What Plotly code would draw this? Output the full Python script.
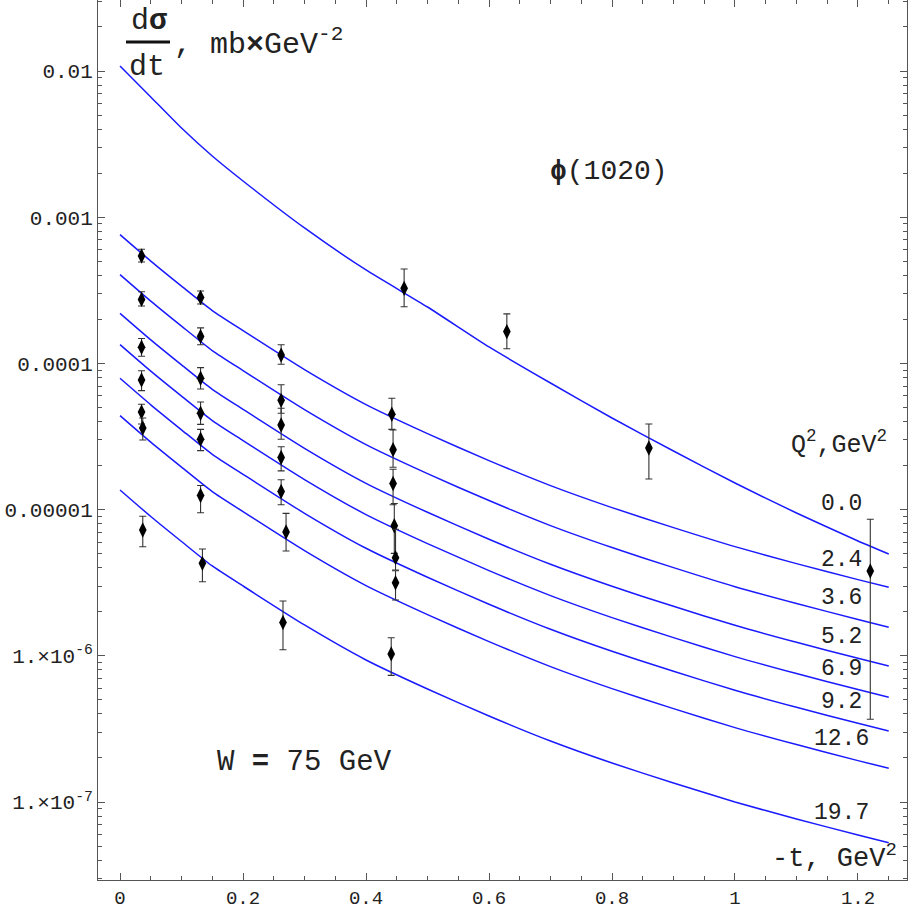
import plotly.graph_objects as go

# ---------------- data ----------------
t_grid = [0, 0.05, 0.1, 0.15, 0.2, 0.3, 0.4, 0.5, 0.6, 0.7, 0.8, 0.9, 1.0, 1.1, 1.2, 1.25]

curve_q0 = [1.082e-2, 6.643e-3, 4.074e-3, 2.622e-3, 1.769e-3, 8.44e-4, 4.354e-4, 2.431e-4,
            1.295e-4, 7.342e-5, 4.231e-5, 2.517e-5, 1.520e-5, 9.48e-6, 6.10e-6, 4.97e-6]
curve_q2_4 = [7.60e-4, 5.009e-4, 3.378e-4, 2.297e-4, 1.676e-4, 9.07e-5, 5.227e-5, 3.310e-5,
              2.164e-5, 1.459e-5, 1.032e-5, 7.53e-6, 5.58e-6, 4.27e-6, 3.32e-6, 2.94e-6]
curve_q3_6 = [4.05e-4, 2.668e-4, 1.799e-4, 1.224e-4, 8.93e-5, 4.83e-5, 2.784e-5, 1.763e-5,
              1.153e-5, 7.77e-6, 5.50e-6, 4.01e-6, 2.97e-6, 2.28e-6, 1.77e-6, 1.57e-6]
curve_q5_2 = [2.201e-4, 1.450e-4, 9.779e-5, 6.649e-5, 4.853e-5, 2.626e-5, 1.513e-5, 9.583e-6,
              6.264e-6, 4.224e-6, 2.987e-6, 2.180e-6, 1.616e-6, 1.237e-6, 9.612e-7, 8.516e-7]
curve_q6_9 = [1.345e-4, 8.861e-5, 5.976e-5, 4.063e-5, 2.966e-5, 1.605e-5, 9.247e-6, 5.856e-6,
              3.828e-6, 2.581e-6, 1.825e-6, 1.332e-6, 9.875e-7, 7.558e-7, 5.874e-7, 5.204e-7]
curve_q9_2 = [7.908e-5, 5.210e-5, 3.514e-5, 2.389e-5, 1.744e-5, 9.434e-6, 5.437e-6, 3.443e-6,
              2.251e-6, 1.518e-6, 1.073e-6, 7.834e-7, 5.806e-7, 4.444e-7, 3.453e-7, 3.060e-7]
curve_q12_6 = [4.395e-5, 2.895e-5, 1.953e-5, 1.328e-5, 9.691e-6, 5.243e-6, 3.022e-6, 1.914e-6,
               1.251e-6, 8.434e-7, 5.964e-7, 4.354e-7, 3.227e-7, 2.470e-7, 1.919e-7, 1.700e-7]
curve_q19_7 = [1.362e-5, 8.973e-6, 6.051e-6, 4.115e-6, 3.003e-6, 1.625e-6, 9.364e-7, 5.930e-7,
               3.876e-7, 2.614e-7, 1.848e-7, 1.349e-7, 1.000e-7, 7.653e-8, 5.948e-8, 5.270e-8]

curves = [curve_q0, curve_q2_4, curve_q3_6, curve_q5_2, curve_q6_9, curve_q9_2, curve_q12_6, curve_q19_7]
q2_labels = ["0.0", "2.4", "3.6", "5.2", "6.9", "9.2", "12.6", "19.7"]

# measured points: (t, value, upper, lower)
pts_q0_t = [0.462, 0.629, 0.860, 1.220]
pts_q0_v = [3.26e-4, 1.65e-4, 2.64e-5, 3.80e-6]
pts_q0_hi = [4.42e-4, 2.18e-4, 3.85e-5, 8.58e-6]
pts_q0_lo = [2.44e-4, 1.26e-4, 1.62e-5, 3.68e-7]

pts_q2_4_t = [0.035, 0.131, 0.262, 0.442]
pts_q2_4_v = [5.43e-4, 2.82e-4, 1.14e-4, 4.49e-5]
pts_q2_4_hi = [6.03e-4, 3.13e-4, 1.34e-4, 5.77e-5]
pts_q2_4_lo = [4.94e-4, 2.55e-4, 9.86e-5, 3.54e-5]

pts_q3_6_t = [0.035, 0.131, 0.262, 0.444]
pts_q3_6_v = [2.74e-4, 1.53e-4, 5.59e-5, 2.57e-5]
pts_q3_6_hi = [3.09e-4, 1.75e-4, 7.15e-5, 3.50e-5]
pts_q3_6_lo = [2.47e-4, 1.34e-4, 4.56e-5, 1.95e-5]

pts_q5_2_t = [0.035, 0.131, 0.262, 0.444]
pts_q5_2_v = [1.29e-4, 7.91e-5, 3.79e-5, 1.51e-5]
pts_q5_2_hi = [1.48e-4, 9.35e-5, 4.93e-5, 1.89e-5]
pts_q5_2_lo = [1.12e-4, 6.68e-5, 3.03e-5, 1.08e-5]

pts_q6_9_t = [0.035, 0.131, 0.262, 0.446]
pts_q6_9_v = [7.70e-5, 4.56e-5, 2.27e-5, 7.76e-6]
pts_q6_9_hi = [8.91e-5, 5.44e-5, 2.69e-5, 1.10e-5]
pts_q6_9_lo = [6.51e-5, 3.83e-5, 1.84e-5, 5.02e-6]

pts_q9_2_t = [0.035, 0.131, 0.262, 0.448]
pts_q9_2_v = [4.65e-5, 3.03e-5, 1.33e-5, 4.69e-6]
pts_q9_2_hi = [5.25e-5, 3.54e-5, 1.60e-5, 7.33e-6]
pts_q9_2_lo = [3.85e-5, 2.53e-5, 1.08e-5, 3.86e-6]

pts_q12_6_t = [0.037, 0.131, 0.270, 0.448]
pts_q12_6_v = [3.61e-5, 1.25e-5, 7.03e-6, 3.16e-6]
pts_q12_6_hi = [4.23e-5, 1.46e-5, 9.43e-6, 3.82e-6]
pts_q12_6_lo = [2.99e-5, 9.52e-6, 5.21e-6, 2.41e-6]

pts_q19_7_t = [0.037, 0.134, 0.265, 0.441]
pts_q19_7_v = [7.25e-6, 4.29e-6, 1.69e-6, 1.03e-6]
pts_q19_7_hi = [9.00e-6, 5.38e-6, 2.37e-6, 1.33e-6]
pts_q19_7_lo = [5.57e-6, 3.21e-6, 1.10e-6, 7.35e-7]

point_sets = [
    (pts_q0_t, pts_q0_v, pts_q0_hi, pts_q0_lo),
    (pts_q2_4_t, pts_q2_4_v, pts_q2_4_hi, pts_q2_4_lo),
    (pts_q3_6_t, pts_q3_6_v, pts_q3_6_hi, pts_q3_6_lo),
    (pts_q5_2_t, pts_q5_2_v, pts_q5_2_hi, pts_q5_2_lo),
    (pts_q6_9_t, pts_q6_9_v, pts_q6_9_hi, pts_q6_9_lo),
    (pts_q9_2_t, pts_q9_2_v, pts_q9_2_hi, pts_q9_2_lo),
    (pts_q12_6_t, pts_q12_6_v, pts_q12_6_hi, pts_q12_6_lo),
    (pts_q19_7_t, pts_q19_7_v, pts_q19_7_hi, pts_q19_7_lo),
]

x_tickvals = [0, 0.2, 0.4, 0.6, 0.8, 1.0, 1.2]
x_ticktext = ["0", "0.2", "0.4", "0.6", "0.8", "1", "1.2"]
y_tickvals = [1e-2, 1e-3, 1e-4, 1e-5, 1e-6, 1e-7]
y_ticktext = ["0.01", "0.001", "0.0001", "0.00001", "1.×10<sup>-6</sup>", "1.×10<sup>-7</sup>"]

# ---------------- figure ----------------
W, H = 910, 910
ML, MR, MT, MB = 98, 3, 0, 30
PW, PH = W - ML - MR, H - MT - MB
FONT = "Liberation Mono, Courier New, monospace"
TXT = "#222222"


def px(xp):
    return (xp - ML) / PW


def py(yp):
    return 1 - (yp - MT) / PH


fig = go.Figure()

for c in curves:
    fig.add_trace(go.Scatter(x=t_grid, y=c, mode="lines",
                             line=dict(color="#1a1aff", width=1.5, shape="spline", smoothing=0.6),
                             hoverinfo="skip", showlegend=False))

for (t, v, hi, lo) in point_sets:
    fig.add_trace(go.Scatter(
        x=t, y=v, mode="markers",
        marker=dict(symbol="diamond-tall", size=11, color="black"),
        error_y=dict(type="data", symmetric=False,
                     array=[h - a for h, a in zip(hi, v)],
                     arrayminus=[a - l for a, l in zip(v, lo)],
                     color="#333333", thickness=1.1, width=3.5),
        showlegend=False))

x_minor = [i * 0.05 for i in range(0, 26) if i % 4 != 0]
y_minor = [k * 10.0 ** n for n in range(-8, -1) for k in range(2, 10)]

axis_common = dict(showline=True, linecolor="#555555", linewidth=1, mirror="allticks",
                   ticks="inside", ticklen=7, tickwidth=1, tickcolor="#555555",
                   showgrid=False, zeroline=False)

fig.update_xaxes(range=[-0.0358, 1.2797], tickmode="array", tickvals=x_tickvals,
                 ticktext=x_ticktext, tickfont=dict(family=FONT, size=19, color=TXT),
                 minor=dict(tickmode="array", tickvals=x_minor, ticks="inside", ticklen=4,
                            tickcolor="#555555", showgrid=False),
                 **axis_common)
fig.update_yaxes(type="log", range=[-7.5335, -1.5144], tickmode="array", tickvals=y_tickvals,
                 ticktext=y_ticktext, tickfont=dict(family=FONT, size=21, color=TXT),
                 minor=dict(tickmode="array", tickvals=y_minor, ticks="inside", ticklen=4,
                            tickcolor="#555555", showgrid=False),
                 **axis_common)

ann = []


def add_text(text, xp, yp, size, xanchor="center", yanchor="middle"):
    ann.append(dict(text=text, x=px(xp), y=py(yp), xref="paper", yref="paper",
                    xanchor=xanchor, yanchor=yanchor, showarrow=False,
                    font=dict(family=FONT, size=size, color=TXT)))


# y-axis title as fraction
add_text("d<b>σ</b>", 149, 21, 30)
add_text("dt", 147, 67, 30)
add_text(", mb<b>×</b>GeV<sup>-2</sup>", 172, 42, 30, xanchor="left")
fig.add_shape(type="line", xref="paper", yref="paper", x0=px(126), x1=px(170),
              y0=py(42), y1=py(42), line=dict(color="#111111", width=3))

add_text("<b>ϕ</b>(1020)", 609, 172, 28)
add_text("W <b>=</b> 75 GeV", 304, 762, 29)
add_text("Q<sup>2</sup>,GeV<sup>2</sup>", 839, 443, 25)
add_text("-t, GeV<sup>2</sup>", 834, 856, 27)

label_y = [504, 560, 598, 637, 669, 702, 739, 813]
for lab, yp in zip(q2_labels, label_y):
    add_text(lab, 841, yp, 23)

fig.update_layout(width=W, height=H, margin=dict(l=ML, r=MR, t=MT, b=MB),
                  paper_bgcolor="white", plot_bgcolor="white", annotations=ann)

fig.write_html("out.html", config={"displayModeBar": False},
               post_script="document.body.style.margin='0px';")
